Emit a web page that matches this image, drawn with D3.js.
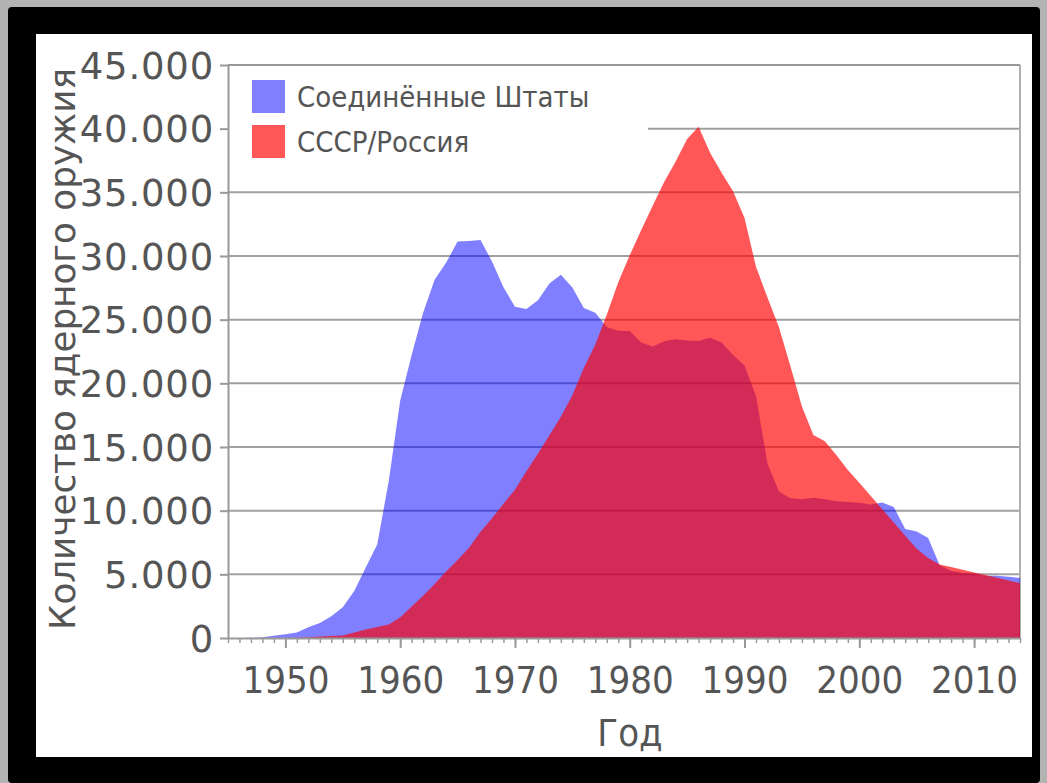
<!DOCTYPE html>
<html><head><meta charset="utf-8">
<script src="https://cdn.jsdelivr.net/npm/d3@7"></script>
<style>html,body{margin:0;padding:0;background:#9a9a9a;overflow:hidden}</style>
</head><body><svg id="c" width="1047" height="783"></svg>
<script>
const years = [1945,1946,1947,1948,1949,1950,1951,1952,1953,1954,1955,1956,1957,1958,1959,1960,1961,1962,1963,1964,1965,1966,1967,1968,1969,1970,1971,1972,1973,1974,1975,1976,1977,1978,1979,1980,1981,1982,1983,1984,1985,1986,1987,1988,1989,1990,1991,1992,1993,1994,1995,1996,1997,1998,1999,2000,2001,2002,2003,2004,2005,2006,2007,2008,2009,2010,2011,2012,2013,2014];
const usValues = [2,9,13,50,170,299,438,841,1169,1703,2422,3692,5543,7345,12298,18638,22229,25540,28133,29463,31139,31175,31255,29561,27552,26008,25830,26516,27835,28537,27519,25914,25542,24418,24138,24104,23208,22886,23305,23459,23368,23317,23575,23205,22217,21392,19008,13708,11511,10979,10904,11011,10903,10732,10685,10615,10491,10640,10295,8570,8360,7853,5709,5273,5113,5066,4897,4881,4804,4717];
const ruValues = [0,0,0,0,1,5,25,50,120,150,200,426,660,869,1060,1605,2471,3322,4238,5221,6129,7089,8339,9399,10538,11643,13092,14478,15915,17385,19055,21205,23044,25393,27935,30062,32049,33952,35804,37431,39197,40159,38107,36538,35078,32980,29154,26734,24403,21339,18179,15942,15442,14368,13188,12188,11152,10114,9076,8038,7000,6284,5776,5573,5363,5153,4943,4733,4523,4300];
const seriesNames = ["Соединённые Штаты","СССР/Россия"];
const yTicks = [0,5000,10000,15000,20000,25000,30000,35000,40000,45000];
const xTicks = [1950,1960,1970,1980,1990,2000,2010];
const xTitle = "Год";
const yTitle = "Количество ядерного оружия";

const svg = d3.select("#c");
const defs = svg.append("defs");
const f = defs.append("filter").attr("id","noise").attr("x",0).attr("y",0).attr("width","100%").attr("height","100%");
f.append("feTurbulence").attr("type","fractalNoise").attr("baseFrequency","0.9 0.35").attr("numOctaves",2).attr("seed",3);
f.append("feColorMatrix").attr("type","matrix").attr("values","0 0 0 0 0.6  0 0 0 0 0.6  0 0 0 0 0.6  0 0 0 0 1");
svg.append("rect").attr("width",1047).attr("height",783).attr("fill","#9c9c9c");
svg.append("rect").attr("width",1047).attr("height",783).attr("filter","url(#noise)").attr("opacity",0.5);
svg.append("rect").attr("x",8).attr("y",7).attr("width",1032).attr("height",776).attr("fill","#000").attr("rx",4);
svg.append("rect").attr("x",36).attr("y",34).attr("width",996).attr("height",723).attr("fill","#fff");

const x = d3.scaleLinear().domain([1945,2014]).range([228,1020]);
const y = d3.scaleLinear().domain([0,45000]).range([638,65]);
const loc = d3.formatLocale({decimal:",",thousands:".",grouping:[3],currency:["",""]});
const fmt = loc.format(",d");

svg.append("g").selectAll("line").data(yTicks.filter(d=>d>0)).join("line")
  .attr("x1",x(1945)).attr("x2",x(2014)).attr("y1",d=>y(d)).attr("y2",d=>y(d))
  .attr("stroke","#a0a0a0").attr("stroke-width",2);
svg.append("line").attr("x1",x(2014)).attr("x2",x(2014)).attr("y1",y(45000)).attr("y2",y(0))
  .attr("stroke","#b0b0b0").attr("stroke-width",2);

svg.append("rect").attr("x",229).attr("y",70).attr("width",419).attr("height",100).attr("fill","#fff");

const data = years.map((yr,i)=>({yr, us:usValues[i], ru:ruValues[i]}));
const areaUS = d3.area().x(d=>x(d.yr)).y0(y(0)).y1(d=>y(d.us));
const areaRU = d3.area().x(d=>x(d.yr)).y0(y(0)).y1(d=>y(d.ru));
svg.append("path").datum(data).attr("d",areaUS).attr("fill","#0000ff").attr("fill-opacity",0.5);
svg.append("path").datum(data).attr("d",areaRU).attr("fill","#ff0000").attr("fill-opacity",0.66);

const ya = svg.append("g").attr("transform",`translate(${x(1945)},0)`)
  .call(d3.axisLeft(y).tickValues(yTicks).tickSize(8).tickSizeOuter(0).tickPadding(6).tickFormat(fmt));
ya.select(".domain").attr("stroke","#999").attr("stroke-width",2);
ya.selectAll(".tick line").attr("stroke","#999").attr("stroke-width",2);
ya.selectAll(".tick text").attr("font-family","DejaVu Sans").attr("font-size",37).attr("letter-spacing",0.8).attr("fill","#555").attr("dy","0.36em");

const xa = svg.append("g").attr("transform",`translate(0,${y(0)})`)
  .call(d3.axisBottom(x).tickValues(years).tickSize(5).tickSizeOuter(0).tickFormat(""));
xa.select(".domain").attr("stroke","#999").attr("stroke-width",2);
xa.selectAll(".tick line").attr("stroke","#999").attr("stroke-width",1.5);
const xm = svg.append("g").attr("transform",`translate(0,${y(0)})`)
  .call(d3.axisBottom(x).tickValues(xTicks).tickSize(10).tickSizeOuter(0).tickPadding(18).tickFormat(d3.format("d")));
xm.select(".domain").remove();
xm.selectAll(".tick line").attr("stroke","#999").attr("stroke-width",2);
xm.selectAll(".tick text").attr("font-family","DejaVu Sans Condensed, DejaVu Sans").attr("font-stretch","condensed").attr("font-size",38).attr("fill","#555");

svg.append("line").attr("x1",x(1945)).attr("x2",x(2014)).attr("y1",y(45000)).attr("y2",y(45000))
  .attr("stroke","#999").attr("stroke-width",2);

svg.append("text").attr("x",630).attr("y",746).attr("text-anchor","middle")
  .attr("font-family","DejaVu Sans Condensed, DejaVu Sans").attr("font-stretch","condensed").attr("font-size",38).attr("fill","#555").text(xTitle);
svg.append("text").attr("transform","translate(75,349) rotate(-90)").attr("text-anchor","middle")
  .attr("textLength",562).attr("lengthAdjust","spacingAndGlyphs")
  .attr("font-family","DejaVu Sans").attr("font-size",35).attr("fill","#555").text(yTitle);

const lg = svg.append("g");
const fills = [["#0000ff",0.5],["#ff0000",0.66]];
seriesNames.forEach((n,i)=>{
  lg.append("rect").attr("x",252).attr("y",80+i*45).attr("width",33).attr("height",33)
    .attr("fill",fills[i][0]).attr("fill-opacity",fills[i][1]);
  lg.append("text").attr("x",297).attr("y",107+i*45)
    .attr("font-family","DejaVu Sans Condensed, DejaVu Sans").attr("font-stretch","condensed").attr("font-size",29).attr("fill","#555").text(n);
});
</script></body></html>
